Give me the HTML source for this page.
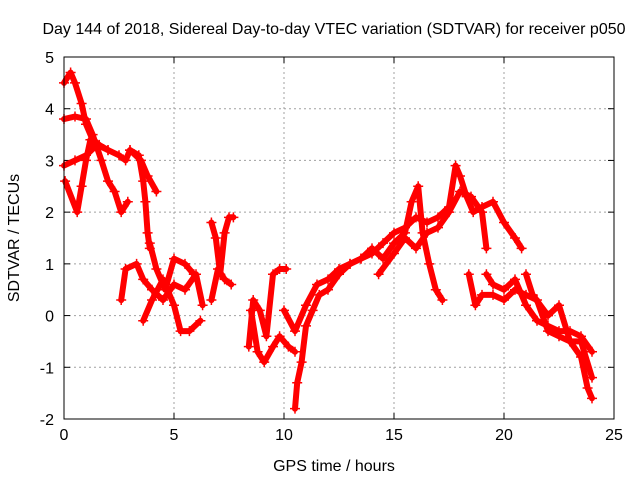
<!DOCTYPE html>
<html><head><meta charset="utf-8"><style>
body{margin:0;background:#fff;}
svg text{font-family:"Liberation Sans",sans-serif;fill:#000;}
</style></head><body>
<svg id="chart" width="640" height="480" viewBox="0 0 640 480" xmlns="http://www.w3.org/2000/svg">
<rect width="640" height="480" fill="#fff"/>
<text x="334" y="34" font-size="16" text-anchor="middle">Day 144 of 2018, Sidereal Day-to-day VTEC variation (SDTVAR) for receiver p050</text>
<text x="334" y="471" font-size="16" text-anchor="middle">GPS time / hours</text>
<text x="19" y="238" font-size="16" text-anchor="middle" transform="rotate(-90 19 238)">SDTVAR / TECUs</text>
<g id="grid"></g><g id="axes"></g><g id="series"></g>
<rect x="64" y="57" width="550" height="362" fill="none" stroke="#000" stroke-width="1"/>
</svg>
<script>
const xTicks=[0,5,10,15,20,25];
const yTicks=[-2,-1,0,1,2,3,4,5];
const trackA=[[0,4.5],[0.3,4.7],[0.5,4.5],[0.8,4.1],[1.0,3.7],[1.3,3.4],[1.6,3.3],[2.0,3.2],[2.5,3.1],[2.8,3.0],[3.0,3.2],[3.5,3.0],[3.8,2.7],[4.2,2.4]];
const trackB=[[0,3.8],[0.5,3.85],[1.0,3.8],[1.3,3.5],[1.7,3.0],[2.0,2.6],[2.3,2.4],[2.6,2.0],[2.9,2.2]];
const trackC=[[0,2.9],[0.5,3.0],[1.0,3.1],[1.5,3.3],[2.0,3.2]];
const trackD=[[0.05,2.6],[0.6,2.0],[0.8,2.5],[1.0,3.0],[1.2,3.4]];
const trackE=[[3.0,3.2],[3.4,3.1],[3.6,2.6],[3.7,2.2],[3.8,1.6],[3.9,1.3]];
const trackF=[[2.6,0.3],[2.8,0.9],[3.3,1.0],[3.6,0.7],[4.0,0.5],[4.5,0.3],[5.0,0.6],[5.5,0.5],[6.0,0.8],[6.3,0.2]];
const trackG=[[3.6,-0.1],[4.0,0.3],[4.5,0.7],[5.0,0.2],[5.3,-0.3],[5.7,-0.3],[6.2,-0.1]];
const trackH=[[3.9,1.4],[4.2,0.9],[4.6,0.5],[5.0,1.1],[5.5,1.0],[5.9,0.8]];
const trackI=[[6.7,1.8],[6.9,1.5],[7.1,0.8],[7.3,1.6],[7.5,1.9],[7.7,1.9]];
const trackJ=[[6.7,0.3],[7.0,0.9],[7.3,0.7],[7.6,0.6]];
const trackK=[[8.4,-0.6],[8.6,0.3],[8.9,0.1],[9.2,-0.4],[9.5,0.8],[9.8,0.9],[10.1,0.9]];
const trackL=[[8.5,0.1],[8.8,-0.7],[9.1,-0.9],[9.5,-0.6],[9.8,-0.4],[10.2,-0.6],[10.5,-0.7]];
const trackM=[[10.5,-1.8],[10.6,-1.3],[10.8,-0.9],[11.0,-0.2],[11.3,0.1],[11.6,0.4],[12,0.5],[12.5,0.8],[13,1.0],[13.5,1.1],[14,1.2],[14.5,1.4],[15,1.6],[15.5,1.7],[16,1.9],[16.5,1.8],[17,1.9],[17.5,2.1],[17.8,2.9],[18,2.7],[18.3,2.3],[18.6,2.0],[19,2.1],[19.5,2.2],[20,1.8],[20.5,1.5],[20.8,1.3]];
const trackN=[[10.0,0.1],[10.5,-0.3],[11,0.2],[11.5,0.6],[12,0.7],[12.5,0.9],[13,1.0],[13.5,1.1],[14,1.3],[14.5,1.1],[15,1.4],[15.5,1.6],[15.8,2.2],[16.1,2.5],[16.3,1.6],[16.6,1.0],[16.9,0.5],[17.2,0.3]];
const trackO=[[14.3,0.8],[15,1.2],[15.5,1.5],[16,1.3],[16.5,1.6],[17,1.7],[17.5,2.0],[18,2.4],[18.5,2.3],[19,2.0],[19.2,1.3]];
const trackP=[[18.4,0.8],[18.7,0.2],[19.0,0.4],[19.5,0.4],[20,0.3],[20.5,0.5],[21,0.4],[21.5,0.3],[22,-0.3],[22.5,-0.4],[23,-0.5],[23.5,-0.8],[23.8,-1.4],[24,-1.6]];
const trackQ=[[19.2,0.8],[19.5,0.6],[20,0.5],[20.5,0.7],[21,0.2],[21.5,-0.1],[22,-0.2],[22.5,-0.3],[23,-0.3],[23.5,-0.4],[24,-0.7]];
const trackR=[[21,0.8],[21.3,0.4],[22,0],[22.5,0.2],[23,-0.5],[23.5,-0.5],[24,-1.2]];
const tracks=[trackA,trackB,trackC,trackD,trackE,trackF,trackG,trackH,trackI,trackJ,trackK,trackL,trackM,trackN,trackO,trackP,trackQ,trackR];

const NS='http://www.w3.org/2000/svg';
const L=64,R=614,T=57,B=419;
function xs(v){return L+(v-0)/(25-0)*(R-L);}
function ys(v){return B-(v-(-2))/(5-(-2))*(B-T);}
const grid=document.getElementById('grid'),axes=document.getElementById('axes'),ser=document.getElementById('series');
function mk(tag,attrs,parent){const e=document.createElementNS(NS,tag);for(const k in attrs)e.setAttribute(k,attrs[k]);parent.appendChild(e);return e;}
xTicks.forEach(t=>{const x=xs(t);
 if(t>0&&t<25){const g=mk('line',{x1:x,x2:x,y1:T,y2:B,stroke:'#a0a0a0','stroke-dasharray':'2,3'},grid);
 
 }
 mk('line',{x1:x,x2:x,y1:B,y2:B-6,stroke:'#000'},axes);mk('line',{x1:x,x2:x,y1:T,y2:T+6,stroke:'#000'},axes);
 const tx=mk('text',{x:x,y:B+21,'font-size':16,'text-anchor':'middle'},axes);tx.textContent=t;
 
 });
yTicks.forEach(t=>{const y=ys(t);
 if(t>-2&&t<5){const g=mk('line',{x1:L,x2:R,y1:y,y2:y,stroke:'#a0a0a0','stroke-dasharray':'2,3'},grid);
 
 }
 mk('line',{x1:L,x2:L+6,y1:y,y2:y,stroke:'#000'},axes);mk('line',{x1:R,x2:R-6,y1:y,y2:y,stroke:'#000'},axes);
 const tx=mk('text',{x:L-10,y:y+6,'font-size':16,'text-anchor':'end'},axes);tx.textContent=t;
 
 });
tracks.forEach((tr,i)=>{
 const pts=tr.map(p=>xs(p[0]).toFixed(1)+','+ys(p[1]).toFixed(1)).join(' ');
 const pl=mk('polyline',{points:pts,fill:'none',stroke:'#ff0000','stroke-width':6,'stroke-linejoin':'round','stroke-linecap':'round'},ser);
 
 
 let d='';tr.forEach(p=>{const x=xs(p[0]),y=ys(p[1]);d+=`M${x-5},${y}h10M${x},${y-5}v10`;});
 const pm=mk('path',{d:d,stroke:'#ff0000','stroke-width':1.5,fill:'none'},ser);
 
 
});
</script>
</body></html>
